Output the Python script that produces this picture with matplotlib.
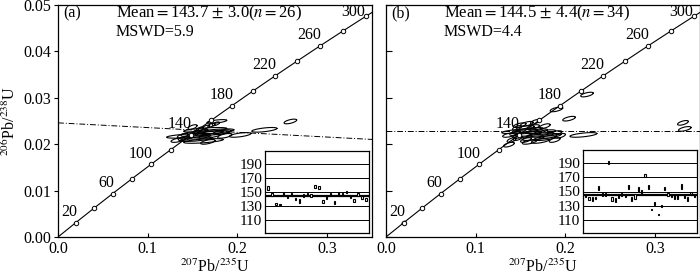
import numpy as np
import matplotlib
matplotlib.use('Agg')
import matplotlib.pyplot as plt

plt.rcParams['font.family'] = ['Liberation Serif', 'DejaVu Serif']
plt.rcParams['mathtext.fontset'] = 'stix'
plt.rcParams['font.size'] = 11

# decay constants (per year) for the concordia curve
L235 = 9.8485e-10
L238 = 1.55125e-10

conc_ages = list(range(20, 320, 20))
label_ages = [20, 60, 100, 140, 180, 220, 260, 300]

# panel (a) ellipses: centre x, centre y, 2-sigma x, 2-sigma y, rho
a_x = [0.153, 0.158, 0.165, 0.171, 0.162, 0.176, 0.177, 0.145, 0.164, 0.154, 0.162, 0.173, 0.147,
       0.142, 0.134, 0.158, 0.169, 0.183, 0.176, 0.203, 0.230, 0.259, 0.150, 0.186, 0.139, 0.167]
a_y = [0.0226, 0.0233, 0.0237, 0.0241, 0.0228, 0.0244, 0.0249, 0.0218, 0.0231, 0.0211, 0.0207, 0.0224, 0.0222,
       0.0213, 0.0209, 0.0216, 0.0218, 0.0226, 0.0228, 0.0220, 0.0231, 0.0249, 0.0237, 0.0218, 0.0218, 0.0205]
a_sx = [0.004, 0.004, 0.004, 0.004, 0.005, 0.004, 0.011, 0.024, 0.024, 0.018, 0.022, 0.018, 0.010,
        0.008, 0.008, 0.012, 0.012, 0.010, 0.020, 0.012, 0.014, 0.007, 0.005, 0.008, 0.006, 0.008]
a_sy = [0.0004] * 7 + [0.0005] * 19
a_rho = [0.6] * 26

# panel (b) ellipses
b_x = [0.190, 0.224, 0.204, 0.331, 0.333, 0.220, 0.137, 0.140, 0.149, 0.157, 0.164, 0.155, 0.160, 0.149,
       0.168, 0.177, 0.158, 0.172, 0.183, 0.151, 0.164, 0.177, 0.156, 0.172, 0.144, 0.147, 0.166, 0.138,
       0.188, 0.177, 0.160, 0.146, 0.188, 0.194, 0.0199]
b_y = [0.0275, 0.0307, 0.0255, 0.0246, 0.0233, 0.0220, 0.0199, 0.0209, 0.0241, 0.0244, 0.0237, 0.0235, 0.0231, 0.0228,
       0.0228, 0.0226, 0.0222, 0.0220, 0.0218, 0.0218, 0.0213, 0.0213, 0.0209, 0.0207, 0.0224, 0.0213, 0.0248, 0.0220,
       0.0224, 0.0239, 0.0205, 0.0235, 0.0209, 0.0218, 0.0031]
b_sx = [0.007, 0.007, 0.007, 0.006, 0.007, 0.015, 0.006, 0.005, 0.007, 0.007, 0.007, 0.010, 0.015, 0.020,
        0.012, 0.012, 0.015, 0.015, 0.012, 0.010, 0.012, 0.012, 0.006, 0.010, 0.006, 0.005, 0.005, 0.008,
        0.008, 0.006, 0.008, 0.005, 0.006, 0.006, 0.002]
b_sy = [0.0005] * 34 + [0.0003]
b_rho = [0.6] * 35

# reference lines (intercept, slope)
a_line = (0.0246, -0.0102)
b_line = (0.0228, 0.0)

# inset weighted-mean plots: age and half error (Ma)
a_age = [156, 147, 133, 132, 148, 144, 146, 140, 137, 145, 146, 145, 158,
         156, 136, 142, 146, 135, 148, 147, 150, 144, 138, 147, 142, 139]
a_err = [3, 2, 1, 1, 2, 2, 2, 2, 3, 2, 2, 2, 2,
         2, 2, 2, 2, 2, 2, 2, 2, 2, 2, 2, 2, 2]
b_age = [145, 140, 140, 141, 155, 146, 146, 190, 140, 138, 144, 146, 144, 156, 140, 143, 153,
         149, 172, 156, 125, 133, 118, 130, 154, 146, 144, 142, 142, 157, 143, 140, 148, 145]
b_err = [2, 2, 3, 2, 3, 2, 2, 2, 3, 3, 3, 2, 2, 3, 3, 3, 3,
         3, 2, 3, 1, 2, 1, 1, 2, 2, 2, 3, 3, 3, 2, 3, 2, 2]

panels = [
    dict(tag='(a)', mean=r'Mean$=$143.7$\,\pm\,$3.0($n$$=$26)', mswd='MSWD=5.9', ex=a_x, ey=a_y, sx=a_sx,
         sy=a_sy, rho=a_rho, line=a_line, age=a_age, err=a_err, wm=143.7, left=58,
         inset=(265, 151, 104, 82)),
    dict(tag='(b)', mean=r'Mean$=$144.5$\,\pm\,$4.4($n$$=$34)', mswd='MSWD=4.4', ex=b_x, ey=b_y, sx=b_sx,
         sy=b_sy, rho=b_rho, line=b_line, age=b_age, err=b_err, wm=144.5, left=386,
         inset=(583, 150, 114, 83)),
]

W, H = 700, 276
fig = plt.figure(figsize=(7, 2.76), dpi=100)

t = np.linspace(0, 2 * np.pi, 80)
tc = np.linspace(0, 320e6, 300)
ca = np.array(conc_ages) * 1e6

for i, p in enumerate(panels):
    ax = fig.add_axes([p['left'] / W, 39 / H, 314 / W, 232 / H])
    ax.set_xlim(0, 0.35)
    ax.set_ylim(0, 0.05)

    # concordia
    ax.plot(np.exp(L235 * tc) - 1, np.exp(L238 * tc) - 1, color='black', lw=0.8, zorder=2)
    ax.plot(np.exp(L235 * ca) - 1, np.exp(L238 * ca) - 1, 'o', ms=3.2, mfc='white', mec='black',
            mew=0.7, ls='none', zorder=4)
    for a in label_ages:
        off = (1, 2) if a != 300 else (-1, -3)
        ax.annotate(str(a), (np.exp(L235 * a * 1e6) - 1, np.exp(L238 * a * 1e6) - 1),
                    xytext=off, textcoords='offset points', ha='right', va='bottom', fontsize=11.5,
                    zorder=5)

    # reference line
    xs = np.array([0, 0.35])
    ax.plot(xs, p['line'][0] + p['line'][1] * xs, color='black', lw=0.7, ls=(0, (6, 2, 1, 2)), zorder=1)

    # error ellipses
    for cx, cy, sx, sy, r in zip(p['ex'], p['ey'], p['sx'], p['sy'], p['rho']):
        ax.plot(cx + sx * np.cos(t), cy + sy * (r * np.cos(t) + np.sqrt(1 - r * r) * np.sin(t)),
                color='black', lw=0.8, zorder=3)

    ax.set_xticks([0, 0.1, 0.2, 0.3])
    ax.set_xticklabels(['0.0', '0.1', '0.2', '0.3'])
    ax.set_yticks([0, 0.01, 0.02, 0.03, 0.04, 0.05])
    ax.tick_params(axis='x', direction='in', length=3, pad=3, labelsize=11.5)
    if i == 0:
        ax.set_yticklabels(['0.00', '0.01', '0.02', '0.03', '0.04', '0.05'])
        ax.tick_params(axis='y', direction='out', length=3, pad=2, labelsize=11.5)
        ax.set_ylabel('$^{206}$Pb/$^{238}$U', fontsize=11.5, labelpad=3)
    else:
        ax.set_yticklabels([])
        ax.tick_params(axis='y', direction='in', length=4)
    ax.set_xlabel('$^{207}$Pb/$^{235}$U', fontsize=11.5, labelpad=1)
    for s in ax.spines.values():
        s.set_linewidth(0.9)

    ax.text(0.016, 0.948, p['tag'], transform=ax.transAxes, ha='left', va='baseline', fontsize=11.5)
    ax.text(0.185, 0.948, p['mean'], transform=ax.transAxes, ha='left', va='baseline', fontsize=12)
    ax.text(0.185, 0.868, p['mswd'], transform=ax.transAxes, ha='left', va='baseline', fontsize=11.5)

    # inset weighted-mean plot
    x0, y0, w, h = p['inset']
    ins = fig.add_axes([x0 / W, (H - y0 - h) / H, w / W, h / H], zorder=10)
    n = len(p['age'])
    idx = np.arange(n)
    ins.set_xlim(-0.8, n - 0.2)
    ins.set_ylim(92, 208)
    for g in [110, 130, 150, 170, 190]:
        ins.axhline(g, color='black', lw=0.7, zorder=1)
    ins.axhline(p['wm'], color='black', lw=1.6, zorder=1)
    age = np.array(p['age'])
    err = np.array(p['err'])
    ins.bar(idx, 2 * err, bottom=age - err, width=0.35, facecolor='white', edgecolor='black',
            linewidth=0.8, zorder=3)
    ins.set_xticks([])
    ins.set_yticks([110, 130, 150, 170, 190])
    ins.tick_params(axis='y', length=0, pad=2, labelsize=11)
    for s in ins.spines.values():
        s.set_linewidth(0.9)

fig.savefig('out.png', dpi=100)
